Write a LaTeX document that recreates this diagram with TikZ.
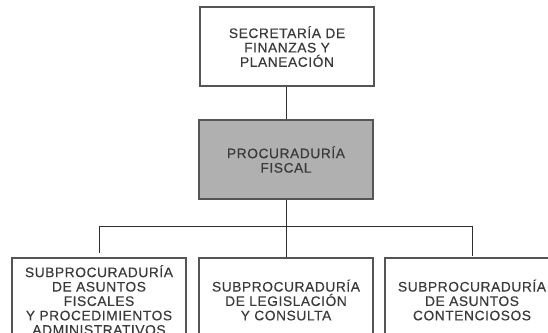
\documentclass[tikz,border=0pt]{standalone}
\usepackage{fontspec}
\setmainfont[LetterSpace=4,FakeBold=0.3]{Liberation Sans}
\definecolor{txt}{HTML}{3A3A3A}
\definecolor{ln}{HTML}{2E2E2E}
\definecolor{bd}{HTML}{555555}
\definecolor{gf}{HTML}{B0B0B0}
\begin{document}
\begin{tikzpicture}[x=1pt,y=-1pt,
  box/.style={draw=bd, line width=1.3pt, rectangle, minimum width=174pt, align=center, text=txt,
    font=\fontsize{13.8}{14.4}\selectfont, inner sep=0pt},
  conn/.style={draw=ln, line width=1pt}]
\useasboundingbox (0,0) rectangle (548,332);
\clip (0,0) rectangle (548,332);
\node[box, fill=white, minimum height=79pt] (sec) at (287,46.5) {SECRETARÍA DE\\FINANZAS Y\\PLANEACIÓN};
\node[box, fill=gf, line width=1.8pt, minimum height=79pt] (proc) at (286,159.5) {PROCURADURÍA\\FISCAL};
\node[box, fill=white, minimum height=84pt] (sub1) at (99,300) {SUBPROCURADURÍA\\DE ASUNTOS\\FISCALES\\Y PROCEDIMIENTOS\\ADMINISTRATIVOS};
\node[box, fill=white, minimum height=84pt] (sub2) at (286,300) {SUBPROCURADURÍA\\DE LEGISLACIÓN\\Y CONSULTA};
\node[box, fill=white, minimum height=84pt] (sub3) at (472,300) {SUBPROCURADURÍA\\DE ASUNTOS\\CONTENCIOSOS};
\coordinate (bus) at (286,226);
\draw[conn] (sec.south -| proc.north) -- (proc.north);
\draw[conn] (proc.south) -- (bus);
\draw[conn] (sub1.north |- bus) -- (sub3.north |- bus);
\draw[conn, shorten >=4pt] (sub1.north |- bus) -- (sub1.north);
\draw[conn] (bus) -- (sub2.north);
\draw[conn, shorten >=1pt] (sub3.north |- bus) -- (sub3.north);
\end{tikzpicture}
\end{document}
